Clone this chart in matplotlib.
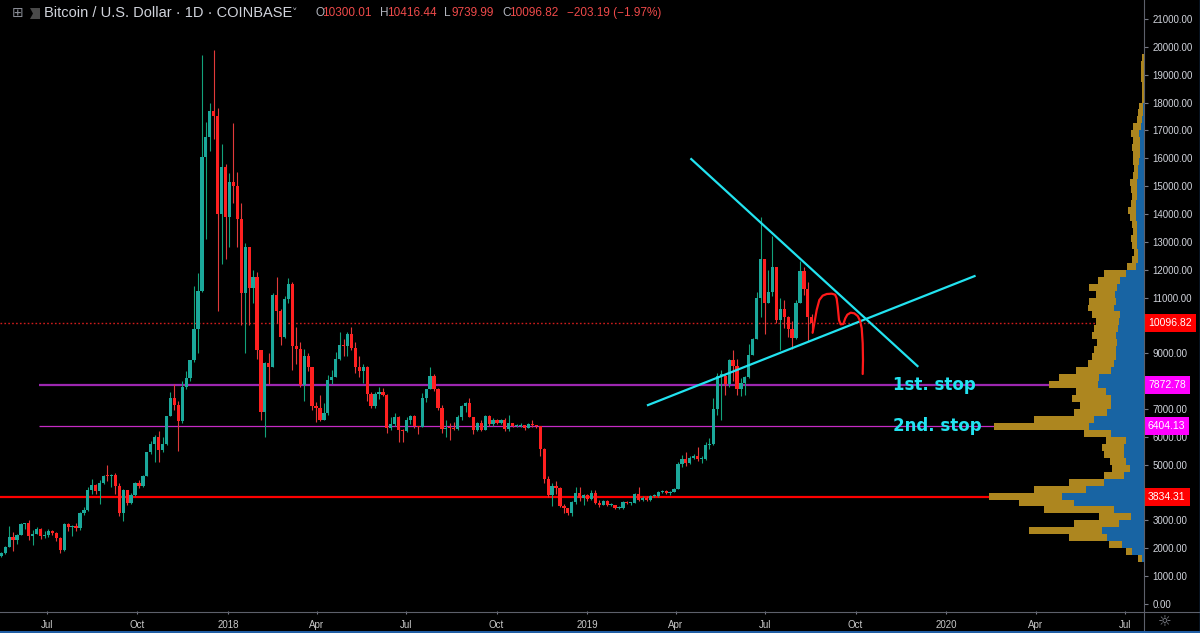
import numpy as np
import pandas as pd
import matplotlib
matplotlib.use("Agg")
import matplotlib.pyplot as plt
import matplotlib.dates as mdates
from matplotlib.ticker import FuncFormatter
from matplotlib.patches import Polygon
from matplotlib.lines import Line2D
from matplotlib.transforms import offset_copy

W, H = 1200, 633

# BTC/USD Coinbase, candles grouped in 4-day buckets from 2017-05-14 (last one = 2019-08-16)
start = "2017-05-14"
bucket_days = 4
first_open = 1720

closes = [
    1820, 2050, 2420, 2300, 2490, 2870, 2900, 2430, 2530, 2710, 2450, 2480, 2620, 2560, 2380, 1930,
    2870, 2760, 2800, 2730, 3250, 3360, 4080, 4280, 4040, 4350, 4600, 4580, 4630, 4230, 3250, 4100,
    3630, 3900, 4340, 4220, 4610, 5440, 5750, 6000, 5520, 5750, 6750, 7390, 7140, 6560, 7790, 8100,
    8750, 9880, 11250, 16050, 16750, 17700, 17500, 14000, 15700, 13880,
    15160, 15000, 13830, 11150, 12800, 11350, 11750, 9100, 6900, 8650, 8500, 11100, 10500, 9580,
    10950, 11500, 9250, 9150, 7850, 8900, 8500, 7100, 7050, 6620, 6850, 8050, 8150, 8800, 9300, 9250,
    9700, 9200, 8500, 8350, 8500, 7550, 7100, 7520, 7620, 7500, 6300, 6450, 6720, 6250, 6200, 6600,
    6750, 6380, 6350, 7400, 7700, 8200, 7730, 7030, 6280, 6320, 6300, 6280, 6700, 7100, 7200, 6700,
    6250, 6500, 6250, 6750, 6450, 6620, 6480, 6620, 6270, 6480, 6400, 6400, 6420, 6330, 6450, 6420,
    6380, 5580, 4500, 3900, 4250, 4150, 3500, 3450, 3250, 3650, 4000, 3800, 3900, 3780,
    4000, 3620, 3550, 3700, 3550, 3550, 3440, 3450, 3650, 3620, 3620, 3950, 3750, 3820, 3720, 3860,
    3880, 4020, 4050, 3990, 4020, 4140, 5030, 5200, 5070, 5250, 5300, 5200, 5200, 5700, 5750, 7000,
    8200, 8200, 7900, 8750, 8550, 7700, 7950, 8150, 8950, 9520, 11000, 12400, 10800, 11200, 12100,
    10200, 10600, 10300, 9870, 9550, 10800, 11950, 11300, 10300, 10096.82,
]
highs = [
    1860, 2100, 2790, 2600, 2500, 2920, 2920, 3010, 2640, 2780, 2730, 2630, 2690, 2650, 2570, 2420,
    2900, 2900, 2840, 2900, 3320, 3490, 4200, 4480, 4320, 4450, 4640, 4980, 4660, 4690, 4350, 4120,
    4100, 3990, 4380, 4440, 4640, 5450, 5860, 6050, 6200, 5980, 6760, 7600, 7880, 7300, 8000, 8370,
    8770, 11400, 11870, 19700, 17300, 17980, 19890, 17800, 16500, 15800,
    15460, 17250, 15500, 14400, 12950, 12800, 12000, 11900, 9100, 8700, 9000, 11150, 11750, 10600,
    11050, 11700, 11550, 9950, 9400, 9150, 9000, 8500, 7250, 7500, 7200, 8220, 8400, 9050, 9750, 9500,
    9750, 9950, 9400, 8900, 8600, 8550, 7600, 7600, 7780, 7750, 7550, 6700, 6850, 6750, 6280, 6700,
    6800, 6800, 6400, 7580, 7730, 8500, 8250, 7750, 7150, 6600, 6500, 6550, 6800, 7150, 7250, 7400,
    6720, 6550, 6600, 6800, 6800, 6670, 6650, 6650, 6680, 6800, 6500, 6450, 6480, 6440, 6480, 6600,
    6420, 6400, 5600, 4600, 4350, 4400, 4200, 3600, 3450, 3700, 4200, 4200, 3950, 3950,
    4100, 4100, 3720, 3750, 3720, 3630, 3550, 3500, 3700, 3680, 3650, 3980, 4200, 3860, 3870, 3920,
    3950, 4060, 4080, 4100, 4050, 4160, 5100, 5350, 5450, 5300, 5400, 5620, 5300, 5800, 5970, 7400,
    8300, 8400, 8250, 8800, 9100, 8800, 8100, 8200, 9350, 9550, 11200, 13880, 12400, 12000, 13200,
    12100, 11000, 10900, 10350, 10150, 10900, 12300, 12100, 11550, 10416.44,
]
lows = [
    1700, 1800, 2040, 1900, 2150, 2460, 2680, 2300, 2120, 2530, 2350, 2380, 2420, 2480, 2250, 1840,
    1920, 2620, 2450, 2620, 2670, 3180, 3350, 3950, 3960, 3600, 4290, 4400, 4200, 3950, 3150, 2980,
    3550, 3600, 3880, 4150, 4200, 4600, 5400, 5100, 5100, 5450, 5700, 6750, 6950, 5500, 6500, 7700,
    8000, 8700, 9000, 11200, 13100, 16250, 16700, 10500, 12200, 12400,
    12800, 14400, 12800, 10000, 9000, 10000, 10800, 8800, 6600, 6000, 7900, 8500, 10100, 9300,
    9550, 10800, 8400, 8600, 7800, 7300, 8350, 6950, 6550, 6580, 6600, 6800, 7900, 8150, 8750, 8900,
    8900, 9100, 8300, 8150, 7950, 7300, 7050, 7050, 7350, 7450, 6150, 6250, 6400, 5800, 5800, 6180,
    6450, 6300, 6100, 6350, 7250, 7700, 7650, 6950, 6150, 6000, 5880, 6250, 6250, 6600, 6900, 6700,
    6100, 6200, 6200, 6250, 6400, 6400, 6450, 6450, 6200, 6200, 6350, 6350, 6370, 6260, 6320, 6360,
    6300, 5300, 4350, 3850, 3500, 3950, 3480, 3250, 3200, 3150, 3600, 3700, 3550, 3700,
    3750, 3580, 3480, 3550, 3500, 3520, 3400, 3400, 3400, 3580, 3560, 3620, 3700, 3700, 3700, 3710,
    3830, 3840, 3980, 3940, 3920, 4020, 4120, 4900, 4950, 5020, 5200, 5150, 5050, 5180, 5580, 5700,
    6800, 6600, 7500, 7800, 8000, 7500, 7450, 7500, 8100, 8950, 9500, 10300, 9700, 10800, 11050,
    10100, 9100, 9900, 9600, 9150, 9500, 10800, 11100, 9450, 9739.99,
]
last_ohlc = [10300.01, 10416.44, 9739.99, 10096.82]
change = -203.19
change_pct = -1.97

# visible range volume profile, 250 USD rows starting at 1500
vp_step = 250
vp_total = [
    6, 18, 35, 75, 115, 70, 45, 100, 125, 155,
    110, 75, 40, 32, 34, 40, 42, 38, 60, 150,
    110, 70, 64, 72, 68, 95, 85, 68, 56, 52,
    50, 47, 52, 50, 48, 52, 56, 55, 48, 55,
    46, 40, 17, 12, 10, 12, 13, 11, 12, 14,
    16, 13, 12, 13, 14, 11, 10, 11, 11, 12,
    11, 13, 11, 7, 6, 5, 2, 2, 2.5, 3,
    3, 3, 2.5,
]
vp_blue = [
    2, 12, 22, 37, 42, 25, 13, 30, 70, 82,
    58, 40, 20, 14, 18, 20, 20, 18, 33, 55,
    50, 37, 33, 33, 38, 46, 45, 33, 30, 28,
    28, 27, 28, 26, 25, 24, 30, 28, 29, 27,
    24, 18, 8, 6, 6, 7, 7, 7, 7.5, 8,
    8.5, 8, 7.5, 7, 6.7, 6, 6, 5, 4.5, 4,
    4, 5, 3, 2, 1.5, 1, 0.5, 0.5, 0.5, 0.5,
    0.5, 0.5, 0.5,
]
vp_bottom = 1500 + vp_step * np.arange(len(vp_total))

# horizontal levels
level_last = 10096.82
level_1st = 7872.78
level_2nd = 6404.13
level_support = 3834.31
levels_start = "2017-06-23"

# drawings on the chart
down_line_dates = ["2019-04-17", "2019-12-03"]
down_line_prices = [15970, 8540]
up_line_dates = ["2019-03-04", "2020-01-30"]
up_line_prices = [7140, 11770]
path_days = [229.4, 231.1, 233.5, 236.2, 239.6, 243.7, 248.8, 252.2, 253.8, 254.9, 256.2, 257.9,
             260.6, 262.6, 264.7, 268.1, 271.8, 275.2, 277.6, 279.3, 280.3, 280.6, 280.3]
path_prices = [9739, 10074, 10553, 10912, 11067, 11127, 11139, 11103, 10972, 10672, 10194, 10038,
               10050, 10254, 10385, 10457, 10433, 10337, 10170, 9895, 9356, 8758, 8256]
stop_labels = ["1st. stop", "2nd. stop"]
stop_prices = [level_1st, level_2nd]
stop_date = "2019-11-08"

# ---------------------------------------------------------------
plt.rcParams["font.family"] = ["Liberation Sans", "DejaVu Sans"]

closes = np.array(closes, float)
highs = np.array(highs, float)
lows = np.array(lows, float)
opens = np.r_[first_open, closes[:-1]]
n = len(closes)
t0 = mdates.date2num(pd.Timestamp(start))
x = t0 + bucket_days * np.arange(n) + 1.5

ref = mdates.date2num(pd.Timestamp("2019-01-01"))
px_per_day = 0.9836
x_left = ref - 587 / px_per_day
x_right = x_left + 1144 / px_per_day

fig = plt.figure(figsize=(W / 100, H / 100), dpi=100, facecolor="black")
ax = fig.add_axes([0, 1 - 611 / H, 1144 / W, 611 / H])
ax.set_facecolor("black")
ax.set_xlim(x_left, x_right)
ax.set_ylim(-251, 21680)

# candles
up = closes >= opens
body_lo = np.minimum(opens, closes)
body_h = np.maximum(np.abs(closes - opens), 40)
ax.vlines(x[up], lows[up], highs[up], color="#12a27a", lw=0.8, zorder=3)
ax.vlines(x[~up], lows[~up], highs[~up], color="#e23a3a", lw=0.8, zorder=3)
ax.bar(x[up], body_h[up], bottom=body_lo[up], width=3.3, color="#1ba89b", lw=0, zorder=3)
ax.bar(x[~up], body_h[~up], bottom=body_lo[~up], width=3.3, color="#ff2020", lw=0, zorder=3)

# levels
lv0 = mdates.date2num(pd.Timestamp(levels_start))
ax.axhline(level_last, color="#d01c1c", lw=1.0, ls=(0, (1.2, 1.6)), zorder=2)
ax.hlines(level_1st, lv0, x_right, color="#9c27b0", lw=1.6, zorder=2)
ax.hlines(level_2nd, lv0, x_right, color="#c42bc4", lw=0.9, zorder=2)
ax.axhline(level_support, color="#ff0000", lw=1.6, zorder=2)

# trend lines and hand-drawn path
cyan = "#22e3f0"
ax.plot(mdates.date2num(pd.to_datetime(down_line_dates)), down_line_prices, color=cyan, lw=1.6, zorder=4)
ax.plot(mdates.date2num(pd.to_datetime(up_line_dates)), up_line_prices, color=cyan, lw=1.6, zorder=4)
ax.plot(ref + np.array(path_days), path_prices, color="#ff1a1a", lw=1.6, zorder=4,
        solid_capstyle="round", solid_joinstyle="round")
for lab, p in zip(stop_labels, stop_prices):
    ax.text(mdates.date2num(pd.Timestamp(stop_date)), p, lab, color=cyan, fontsize=12,
            fontweight="bold", family="DejaVu Sans", ha="left", va="center", zorder=5)

# axes styling
for s in ax.spines.values():
    s.set_visible(False)
ax.yaxis.tick_right()
# 4000, 8000 and 10000 sit under the level labels, TradingView hides them
yt = [v for v in range(0, 21001, 1000) if v not in (4000, 8000, 10000)]
ax.set_yticks(yt)
ax.yaxis.set_major_formatter(FuncFormatter(lambda v, p: f"{v:.2f}"))
ax.tick_params(axis="y", colors="#787b86", labelcolor="#d1d4dc", labelsize=7, length=3,
               width=0.8, pad=3)


def month_label(v, pos):
    d = mdates.num2date(v)
    return str(d.year) if d.month == 1 else d.strftime("%b")


ax.xaxis.set_major_locator(mdates.MonthLocator(bymonth=[1, 4, 7, 10]))
ax.xaxis.set_major_formatter(FuncFormatter(month_label))
ax.tick_params(axis="x", colors="#787b86", labelcolor="#c8c8c8", labelsize=7, length=2.5,
               width=0.8, pad=4)

# price labels on the scale
tr = offset_copy(ax.get_yaxis_transform(), fig=fig, x=4, y=0, units="dots")
for p, fc in [(level_last, "#ff0000"), (level_1st, "#ff00ff"), (level_2nd, "#ff00ff"),
              (level_support, "#ff0000")]:
    ax.text(1.0, p, f"{p:.2f}", transform=tr, color="white", fontsize=7.5, ha="left", va="center",
            clip_on=False, zorder=10,
            bbox=dict(boxstyle="square,pad=0.38", fc=fc, ec="none"))

# volume profile, anchored on the right edge
ax_vp = ax.twiny()
ax_vp.set_xlim(1144, 0)
ax_vp.axis("off")
vp_total = np.array(vp_total, float)
vp_blue = np.array(vp_blue, float)
ax_vp.barh(vp_bottom, vp_blue, height=vp_step, align="edge", color="#1864a3", lw=0)
ax_vp.barh(vp_bottom, vp_total - vp_blue, left=vp_blue, height=vp_step, align="edge",
           color="#ad861f", lw=0)

# frame lines
fig.add_artist(Line2D([0, 1], [1 - 611.5 / H] * 2, color="#5d606b", lw=0.8))
fig.add_artist(Line2D([1143.5 / W] * 2, [0, 1], color="#5d606b", lw=0.8))
fig.add_artist(Line2D([0, 1], [1 / H] * 2, color="#2060a8", lw=1.4))
fig.add_artist(Line2D([1 - 0.5 / W] * 2, [0, 1], color="#2060a8", lw=1.0))


# header
def fx(px):
    return px / W


def fy(py):
    return 1 - py / H


hy = fy(13)
fig.text(fx(17.5), hy, "⊞", color="#8a8d96", fontsize=10, ha="center", va="center",
         family="DejaVu Sans")
fig.add_artist(Polygon([[fx(30), fy(8)], [fx(40), fy(8)], [fx(40), fy(19)], [fx(30), fy(19)],
                        [fx(33), fy(13.5)]], closed=True, fc="#4a4a4a", ec="none"))
fig.text(fx(44), hy, "Bitcoin / U.S. Dollar · 1D · COINBASE", color="#d1d4dc", fontsize=10.5,
         va="center")
fig.text(fx(292), hy, "˅", color="#b2b5be", fontsize=8, va="center", family="DejaVu Sans")
red = "#ef4a4a"
for lab, val, px in zip("OHLC", last_ohlc, [315, 380, 444, 502]):
    fig.text(fx(px), hy, lab, color="#b2b5be", fontsize=8.5, va="center")
    fig.text(fx(px + 7.5), hy, f"{val:.2f}", color=red, fontsize=8.5, va="center")
fig.text(fx(567), hy, f"−{abs(change):.2f} (−{abs(change_pct):.2f}%)", color=red, fontsize=8.5,
         va="center")

fig.text(fx(1165), fy(622), "☼", color="#8a8d96", fontsize=11, ha="center", va="center",
         family="DejaVu Sans")

fig.savefig("out.png", dpi=100, facecolor="black")
